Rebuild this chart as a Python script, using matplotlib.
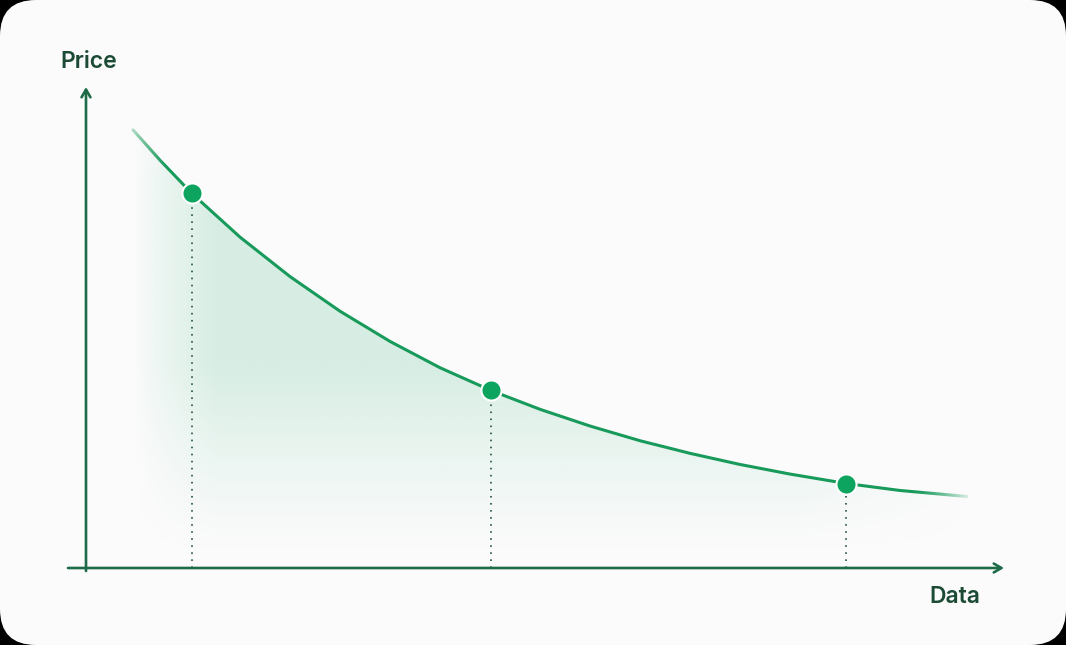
import numpy as np
import matplotlib.pyplot as plt
from matplotlib.patches import FancyBboxPatch, Polygon

# curve (arbitrary units, axes 0..100)
curve_x = [5.13, 8.07, 11.53, 16.79, 22.25, 27.70, 33.15, 38.60, 44.17,
           49.51, 54.96, 60.41, 65.87, 71.32, 76.77, 82.93, 88.77, 96.07]
curve_y = [91.25, 84.96, 78.06, 68.94, 60.71, 53.50, 47.21, 41.73, 36.98,
           33.06, 29.58, 26.52, 23.89, 21.57, 19.57, 17.60, 16.15, 14.90]
dots_x = [11.53, 44.17, 82.93]
dots_y = [78.06, 36.98, 17.60]
x_label = 'Data'
y_label = 'Price'

W, H = 1066, 645
card = '#fbfbfb'
green = '#189a5b'
dot_green = '#0ca45f'
axis_green = '#1d6b47'
text_green = '#1b4a35'

fig = plt.figure(figsize=(W / 100, H / 100), dpi=100, facecolor='black')

# card background (pixel coordinates)
bg = fig.add_axes([0, 0, 1, 1], zorder=0)
bg.set_xlim(0, W)
bg.set_ylim(H, 0)
bg.axis('off')
bg.add_patch(FancyBboxPatch((0, 0), W, H, boxstyle='round,pad=0,rounding_size=36',
                            facecolor=card, edgecolor='none'))

# data axes: origin at the axis crossing
x0, y0, x1, y1 = 86, 568, 1003, 88
ax = fig.add_axes([x0 / W, 1 - y0 / H, (x1 - x0) / W, (y0 - y1) / H], zorder=1)
ax.set_xlim(0, 100)
ax.set_ylim(0, 100)
ax.axis('off')
ax.patch.set_alpha(0)

cx = np.array(curve_x)
cy = np.array(curve_y)

# soft green fill under the curve
gx, gy = np.meshgrid(np.linspace(0, 100, 400), np.linspace(0, 100, 400))
v = np.clip((gy - 2) / 40, 0, 1) ** 1.2
h = np.clip((gx - cx[0]) / 9, 0, 1) ** 0.8 * np.clip((100 - gx) / 22, 0, 1)
alpha = 0.15 * v * h
rgba = np.zeros(gx.shape + (4,))
rgba[..., 0] = 10 / 255
rgba[..., 1] = 160 / 255
rgba[..., 2] = 95 / 255
rgba[..., 3] = alpha
im = ax.imshow(rgba, extent=[0, 100, 0, 100], origin='lower', aspect='auto',
               interpolation='bilinear', zorder=1)
verts = np.vstack([np.column_stack([cx, cy]), [[cx[-1], 0], [cx[0], 0]]])
clip = Polygon(verts, closed=True, facecolor='none', edgecolor='none')
ax.add_patch(clip)
im.set_clip_path(clip)

ax.plot(cx, cy, color=green, lw=2.2, solid_capstyle='round',
        solid_joinstyle='round', zorder=3)

for dx, dy in zip(dots_x, dots_y):
    ax.plot([dx, dx], [0, dy], color='#2f5e4a', lw=1.3,
            linestyle=(0, (0.9, 3.0)), zorder=2)
ax.plot(dots_x, dots_y, 'o', ms=14.5, color=dot_green, mec='white', mew=1.5,
        zorder=4, clip_on=False)

# overlay: line end fades, axes arrows, labels
top = fig.add_axes([0, 0, 1, 1], zorder=2)
top.axis('off')
top.patch.set_alpha(0)

card_rgb = np.array([0xfb, 0xfb, 0xfb]) / 255


def fade(xa, xb, ya, yb, left_opaque):
    n = 100
    a = np.linspace(1, 0, n) if left_opaque else np.linspace(0, 1, n)
    a = a ** 1.3
    img = np.zeros((2, n, 4))
    img[..., :3] = card_rgb
    img[..., 3] = a
    top.imshow(img, extent=[xa, xb, yb, ya], aspect='auto', interpolation='bilinear')


fade(120, 168, 114, 170, True)
fade(915, 975, 480, 506, False)
top.set_xlim(0, W)
top.set_ylim(H, 0)

arrow = dict(arrowstyle='->,head_length=0.55,head_width=0.32', color=axis_green,
             lw=1.9, shrinkA=0, shrinkB=0)
top.annotate('', xy=(86, 87), xytext=(86, 571), arrowprops=arrow)
top.annotate('', xy=(1004, 568), xytext=(68, 568), arrowprops=arrow)

top.text(89, 62, y_label, ha='center', va='center', fontsize=16.5,
         fontfamily='Inter', fontweight='semibold', color=text_green)
top.text(955, 597, x_label, ha='center', va='center', fontsize=16.5,
         fontfamily='Inter', fontweight='semibold', color=text_green)

fig.savefig('out.png', dpi=100, facecolor='black')
